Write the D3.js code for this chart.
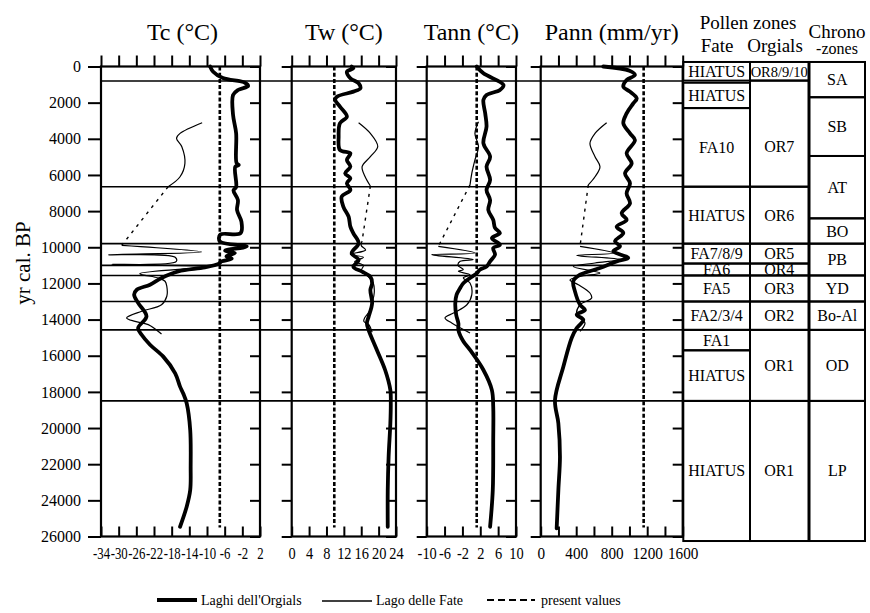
<!DOCTYPE html>
<html>
<head>
<meta charset="utf-8">
<script src="https://cdn.jsdelivr.net/npm/d3@7"></script>
<style>
  html, body { margin: 0; padding: 0; background: #fff; }
  svg text { font-family: "Liberation Serif", "Times New Roman", Tinos, "DejaVu Serif", serif !important; }
</style>
</head>
<body>
<svg id="chart" width="870" height="613"></svg>
<script>
// ---- Reconstructed climate series: [age (yr cal. BP), value] ----
const orgialsTc = [[0,-9.3],[290,-8.6],[640,-6.4],[900,-1.4],[1080,-0.7],[1300,-3.0],[1580,-4.1],[2680,-4.1],[3700,-3.4],[5340,-3.3],[5450,-2.8],[5550,-3.6],[6660,-3.4],[6850,-4.0],[7390,-3.0],[7940,-3.2],[8590,-2.2],[9220,-2.4],[9300,-7.0],[9670,-7.1],[9950,-1.0],[10190,-5.9],[10320,-3.7],[10500,-5.6],[10630,-4.4],[10780,-6.7],[10920,-7.4],[11110,-10.5],[11330,-16.5],[11700,-20.3],[12070,-22.9],[12350,-25.9],[12620,-26.5],[13080,-25.6],[13820,-23.7],[14470,-25.6],[14840,-24.8],[15390,-22.9],[16050,-19.9],[16970,-17.2],[17710,-16.1],[18080,-15.4],[18630,-14.6],[20110,-13.8],[22140,-13.7],[23430,-13.8],[24350,-14.6],[25460,-16.1]];
const fateTcHolocene = [[3110,-11.1],[3700,-16.1],[3970,-16.9],[4440,-15.7],[5360,-15.0],[6100,-16.1],[6650,-18.8]];
const fateTcLateglacial = [[9890,-29.3],[10260,-11.2],[10410,-32.3],[10550,-17.2],[10800,-17.0],[10950,-31.5],[11080,-10.5],[11460,-25.2],[11700,-21.0],[11880,-19.5],[12160,-19.1],[12710,-19.1],[13180,-20.3],[13540,-24.8],[13910,-28.2],[14100,-26.3],[14280,-23.3],[14800,-20.3]];

const orgialsTw = [[0,13.8],[100,14.2],[290,12.7],[650,13.5],[930,15.4],[1210,15.8],[1390,14.2],[1670,10.4],[1850,10.0],[2220,11.1],[2770,12.7],[3140,11.1],[3880,10.8],[4620,11.1],[4800,13.5],[5170,12.7],[5540,13.5],[5910,12.3],[6180,13.5],[6460,12.7],[6830,13.5],[7200,11.5],[7760,11.9],[8310,13.1],[8860,13.5],[9230,14.2],[9780,15.4],[10330,13.8],[10700,15.4],[11080,14.2],[11350,16.2],[11630,18.1],[11990,18.5],[12360,18.1],[13100,18.5],[13840,17.7],[14210,17.3],[14580,17.7],[15680,19.6],[16790,21.5],[17900,22.7],[18630,22.8],[19740,22.7],[21590,22.3],[23430,22.1],[25460,22.1]];
const fateTwHolocene = [[3110,15.4],[3700,18.1],[4430,19.8],[4990,18.1],[5540,16.2],[6100,16.9],[6610,18.1]];
const fateTwLateglacial = [[9650,16.2],[9900,16.0],[10150,17.0],[10400,13.5],[10550,16.5],[10800,14.5],[11000,16.5],[11300,16.0],[11600,17.5],[12000,18.8],[12500,19.0],[13000,18.6],[13500,18.0],[13900,16.8],[14100,16.6],[14300,17.8],[14700,18.5]];

const orgialsTann = [[0,1.2],[380,2.7],[1020,7.2],[1300,6.4],[1580,3.4],[1850,2.7],[2590,3.1],[3330,3.4],[4250,2.7],[4990,4.2],[5540,3.4],[6280,4.2],[6830,3.4],[7390,4.2],[7940,3.8],[8490,4.9],[8930,5.3],[9210,6.4],[9490,4.6],[9860,6.4],[10040,4.9],[10410,5.3],[10780,4.2],[11070,3.4],[11240,1.9],[11440,1.2],[11700,-0.3],[11990,-1.8],[12250,-2.5],[12620,-3.3],[13100,-3.6],[13730,-3.4],[14210,-2.9],[14580,-2.9],[15200,-1.8],[15680,-0.3],[16790,2.7],[17900,4.6],[18820,4.9],[20660,4.9],[23430,4.8],[25460,4.2]];
const fateTannHolocene = [[3050,1.6],[3700,0.8],[4430,1.6],[5170,0.8],[5910,0.1],[6550,-0.3]];
const fateTannLateglacial = [[9950,-7.4],[10320,0.8],[10410,-8.9],[10680,0.4],[10780,-2.5],[11000,-3.0],[11240,-1.8],[11330,-2.9],[11520,-0.3],[11700,-1.8],[11980,-0.3],[12620,0.1],[13180,-1.0],[13640,-4.0],[13910,-5.9],[14190,-4.4],[14740,-0.3]];

const orgialsPann = [[0,705],[230,1000],[470,1062],[750,968],[1120,931],[1390,1006],[1760,1082],[2040,1043],[2590,968],[3140,931],[3700,1006],[4070,1062],[4800,968],[5360,1025],[5910,950],[6460,1006],[7020,968],[7570,1006],[8120,912],[8490,968],[8860,856],[9210,931],[9670,837],[9950,893],[10220,818],[10590,987],[10780,856],[11150,668],[11520,443],[11880,367],[12440,386],[13180,443],[13470,499],[13730,406],[14010,480],[14470,406],[15020,349],[16610,255],[18450,161],[19740,199],[21590,217],[23430,199],[25550,180]];
const fatePannHolocene = [[3110,743],[3700,612],[4250,555],[4990,612],[5540,668],[6100,612],[6550,536]];
const fatePannLateglacial = [[9950,443],[10320,818],[10450,406],[10680,893],[10870,612],[11070,367],[11420,668],[11610,443],[11810,330],[12070,424],[12530,555],[12810,574],[13180,443],[13730,406],[14190,499],[14650,443]];

// present-day values
const presentTc = -7.1, presentTw = 9.8, presentTann = 1.2, presentPann = 1160;
const presentSpan = [0, 25500];

// ---- Axis ticks ----
const yearTicks = [0,2000,4000,6000,8000,10000,12000,14000,16000,18000,20000,22000,24000,26000];
const tcTicks = [-34,-30,-26,-22,-18,-14,-10,-6,-2,2];
const twTicks = [0,4,8,12,16,20,24];
const tannTicks = [-10,-6,-2,2,6,10];
const pannTicks = [0,200,400,600,800,1000,1200,1400,1600];
const pannLabels = [0,400,800,1200,1600];

// ---- Zone boundaries (yr cal. BP) ----
const zoneBoundaries = [800, 6650, 9800, 11000, 11560, 13000, 14570, 18500];
const fateZones = [
  {name:"HIATUS", from:-250, to:780},
  {name:"HIATUS", from:900, to:2300},
  {name:"FA10", from:2300, to:6650},
  {name:"HIATUS", from:6650, to:9800},
  {name:"FA7/8/9", from:9800, to:10900},
  {name:"FA6", from:10900, to:11560},
  {name:"FA5", from:11560, to:13000},
  {name:"FA2/3/4", from:13000, to:14570},
  {name:"FA1", from:14570, to:15700},
  {name:"HIATUS", from:15700, to:18500},
  {name:"HIATUS", from:18500, to:26250}
];
const orgialsZones = [
  {name:"OR8/9/10", from:-250, to:780},
  {name:"OR7", from:780, to:6650, at:4450},
  {name:"OR6", from:6650, to:9800},
  {name:"OR5", from:9800, to:10900},
  {name:"OR4", from:10900, to:11560},
  {name:"OR3", from:11560, to:13000},
  {name:"OR2", from:13000, to:14570},
  {name:"OR1", from:14570, to:18500},
  {name:"OR1", from:18500, to:26250}
];
const chronoZones = [
  {name:"SA", from:-250, to:1700},
  {name:"SB", from:1700, to:4950},
  {name:"AT", from:4950, to:8400},
  {name:"BO", from:8400, to:9800},
  {name:"PB", from:9800, to:11560},
  {name:"YD", from:11560, to:13000},
  {name:"Bo-Al", from:13000, to:14570},
  {name:"OD", from:14570, to:18500},
  {name:"LP", from:18500, to:26250}
];

// ---- Drawing ----
const svg = d3.select("#chart");
svg.append("rect").attr("width", 870).attr("height", 613).attr("fill", "#fff");

const y = d3.scaleLinear().domain([0, 26000]).range([66.5, 536.5]);

const panels = [
  {title:"Tc (°C)", x0:101, x1:260, domain:[-34,2], ticks:tcTicks, labels:tcTicks, squeeze:0.8,
   orgials:orgialsTc, fateA:fateTcHolocene, fateB:fateTcLateglacial, present:presentTc},
  {title:"Tw (°C)", x0:291.7, x1:396, domain:[0,24], ticks:twTicks, labels:twTicks, squeeze:0.9,
   orgials:orgialsTw, fateA:fateTwHolocene, fateB:fateTwLateglacial, present:presentTw},
  {title:"Tann (°C)", x0:426.7, x1:516, domain:[-10,10], ticks:tannTicks, labels:tannTicks, squeeze:0.9,
   orgials:orgialsTann, fateA:fateTannHolocene, fateB:fateTannLateglacial, present:presentTann},
  {title:"Pann (mm/yr)", x0:540.7, x1:682.7, domain:[0,1600], ticks:pannTicks, labels:pannLabels, squeeze:0.95,
   orgials:orgialsPann, fateA:fatePannHolocene, fateB:fatePannLateglacial, present:presentPann}
];

// zone boundary lines running across all panels
svg.append("g").selectAll("line").data(zoneBoundaries).join("line")
  .attr("x1", 101).attr("x2", 683.3)
  .attr("y1", d => y(d)).attr("y2", d => y(d))
  .attr("stroke", "#000").attr("stroke-width", 1.6);

function styleAxis(g) {
  g.attr("font-family", null);
  g.select(".domain").remove();
  g.selectAll(".tick line").attr("stroke", "#000").attr("stroke-width", 2);
  g.selectAll(".tick text").attr("fill", "#000");
}

panels.forEach((p, i) => {
  const x = d3.scaleLinear().domain(p.domain).range([p.x0, p.x1]);
  const g = svg.append("g");
  const yTop = y(0), yBot = y(26000);

  // title
  g.append("text").attr("x", (p.x0 + p.x1) / 2 + (i === 0 ? 2 : 0)).attr("y", 40)
    .attr("text-anchor", "middle").attr("font-size", 24).text(p.title);

  // top ticks (outward)
  g.append("g").attr("transform", `translate(0,${yTop})`)
    .call(d3.axisTop(x).tickValues(p.ticks).tickSize(11).tickFormat(""))
    .call(styleAxis);

  // bottom ticks (inward) with narrow labels
  g.append("g").attr("transform", `translate(0,${yBot})`)
    .call(d3.axisBottom(x).tickValues(p.ticks).tickSizeInner(-10).tickSizeOuter(0).tickPadding(11)
      .tickFormat(d => p.labels.includes(d) ? String(d) : ""))
    .call(styleAxis)
    .call(a => a.selectAll(".tick text").attr("font-size", 16)
      .each(function() {
        const w = this.getComputedTextLength();
        if (w > 0) d3.select(this).attr("textLength", w * p.squeeze).attr("lengthAdjust", "spacingAndGlyphs");
      }));

  // left ticks (outward); only the first panel carries the age labels
  g.append("g").attr("transform", `translate(${p.x0},0)`)
    .call(d3.axisLeft(y).tickValues(yearTicks).tickSize(i === 0 ? 13 : 10).tickPadding(7)
      .tickFormat(i === 0 ? (d => String(d)) : ""))
    .call(styleAxis)
    .call(a => a.selectAll(".tick text").attr("font-size", 16));

  // right ticks (inward)
  g.append("g").attr("transform", `translate(${p.x1},0)`)
    .call(d3.axisRight(y).tickValues(yearTicks).tickSize(-10).tickFormat(""))
    .call(styleAxis);

  // frame
  g.append("rect").attr("x", p.x0).attr("y", yTop)
    .attr("width", p.x1 - p.x0).attr("height", yBot - yTop)
    .attr("fill", "none").attr("stroke", "#000").attr("stroke-width", 2.2);

  // present value
  g.append("line")
    .attr("x1", x(p.present)).attr("x2", x(p.present))
    .attr("y1", y(presentSpan[0])).attr("y2", y(presentSpan[1]))
    .attr("stroke", "#000").attr("stroke-width", 2.6).attr("stroke-dasharray", "4,2.2");

  const line = d3.line().x(d => x(d[1])).y(d => y(d[0]))
    .curve(d3.curveCatmullRom.alpha(0.5));

  // Lago delle Fate (thin) with dotted gap between its two sections
  g.append("path").attr("d", line(p.fateA))
    .attr("fill", "none").attr("stroke", "#000").attr("stroke-width", 1.2);
  g.append("path").attr("d", line(p.fateB))
    .attr("fill", "none").attr("stroke", "#000").attr("stroke-width", 1.2);
  const gap = [p.fateA[p.fateA.length - 1], p.fateB[0]];
  g.append("path").attr("d", d3.line().x(d => x(d[1])).y(d => y(d[0]))(gap))
    .attr("fill", "none").attr("stroke", "#000").attr("stroke-width", 1.4)
    .attr("stroke-dasharray", "3,5");

  // Laghi dell'Orgials (thick)
  g.append("path").attr("d", line(p.orgials))
    .attr("fill", "none").attr("stroke", "#000").attr("stroke-width", 3.8)
    .attr("stroke-linejoin", "round").attr("stroke-linecap", "round");
});

// y-axis title
svg.append("text").attr("transform", "translate(30,263) rotate(-90)")
  .attr("text-anchor", "middle").attr("font-size", 21).text("yr cal. BP");

// ---- Pollen zone / chronozone table ----
const cols = [
  {zones: fateZones, x0: 683.3, x1: 750},
  {zones: orgialsZones, x0: 750, x1: 808.5},
  {zones: chronoZones, x0: 809.5, x1: 865}
];
const table = svg.append("g");
cols.forEach(c => {
  const cg = table.append("g");
  cg.selectAll("text").data(c.zones).join("text")
    .attr("x", (c.x0 + c.x1) / 2)
    .attr("y", d => y(d.at !== undefined ? d.at : (d.from + d.to) / 2) + 5.5)
    .attr("text-anchor", "middle")
    .attr("font-size", d => d.name.length > 7 ? 14.5 : 16)
    .text(d => d.name);
  cg.selectAll("rect").data(c.zones).join("rect")
    .attr("x", c.x0).attr("width", c.x1 - c.x0)
    .attr("y", d => y(d.from)).attr("height", d => y(d.to) - y(d.from))
    .attr("fill", "none").attr("stroke", "#000").attr("stroke-width", 2);
});

// table headers
const hdr = svg.append("g").attr("font-size", 19).attr("text-anchor", "middle");
hdr.append("text").attr("x", 748).attr("y", 29).text("Pollen zones");
hdr.append("text").attr("x", 717).attr("y", 52).text("Fate");
hdr.append("text").attr("x", 775).attr("y", 52).text("Orgials");
hdr.append("text").attr("x", 837).attr("y", 38).text("Chrono");
hdr.append("text").attr("x", 837).attr("y", 54).attr("font-size", 16).text("-zones");

// ---- Legend ----
const legend = svg.append("g").attr("font-size", 14);
legend.append("line").attr("x1", 157).attr("x2", 197).attr("y1", 600).attr("y2", 600)
  .attr("stroke", "#000").attr("stroke-width", 4);
legend.append("text").attr("x", 201).attr("y", 605).text("Laghi dell'Orgials");
legend.append("line").attr("x1", 322).attr("x2", 372).attr("y1", 601).attr("y2", 601)
  .attr("stroke", "#000").attr("stroke-width", 1.3);
legend.append("text").attr("x", 376).attr("y", 605).text("Lago delle Fate");
legend.append("line").attr("x1", 487).attr("x2", 535).attr("y1", 600).attr("y2", 600)
  .attr("stroke", "#000").attr("stroke-width", 2).attr("stroke-dasharray", "7,4");
legend.append("text").attr("x", 541).attr("y", 605).text("present values");
</script>
</body>
</html>
